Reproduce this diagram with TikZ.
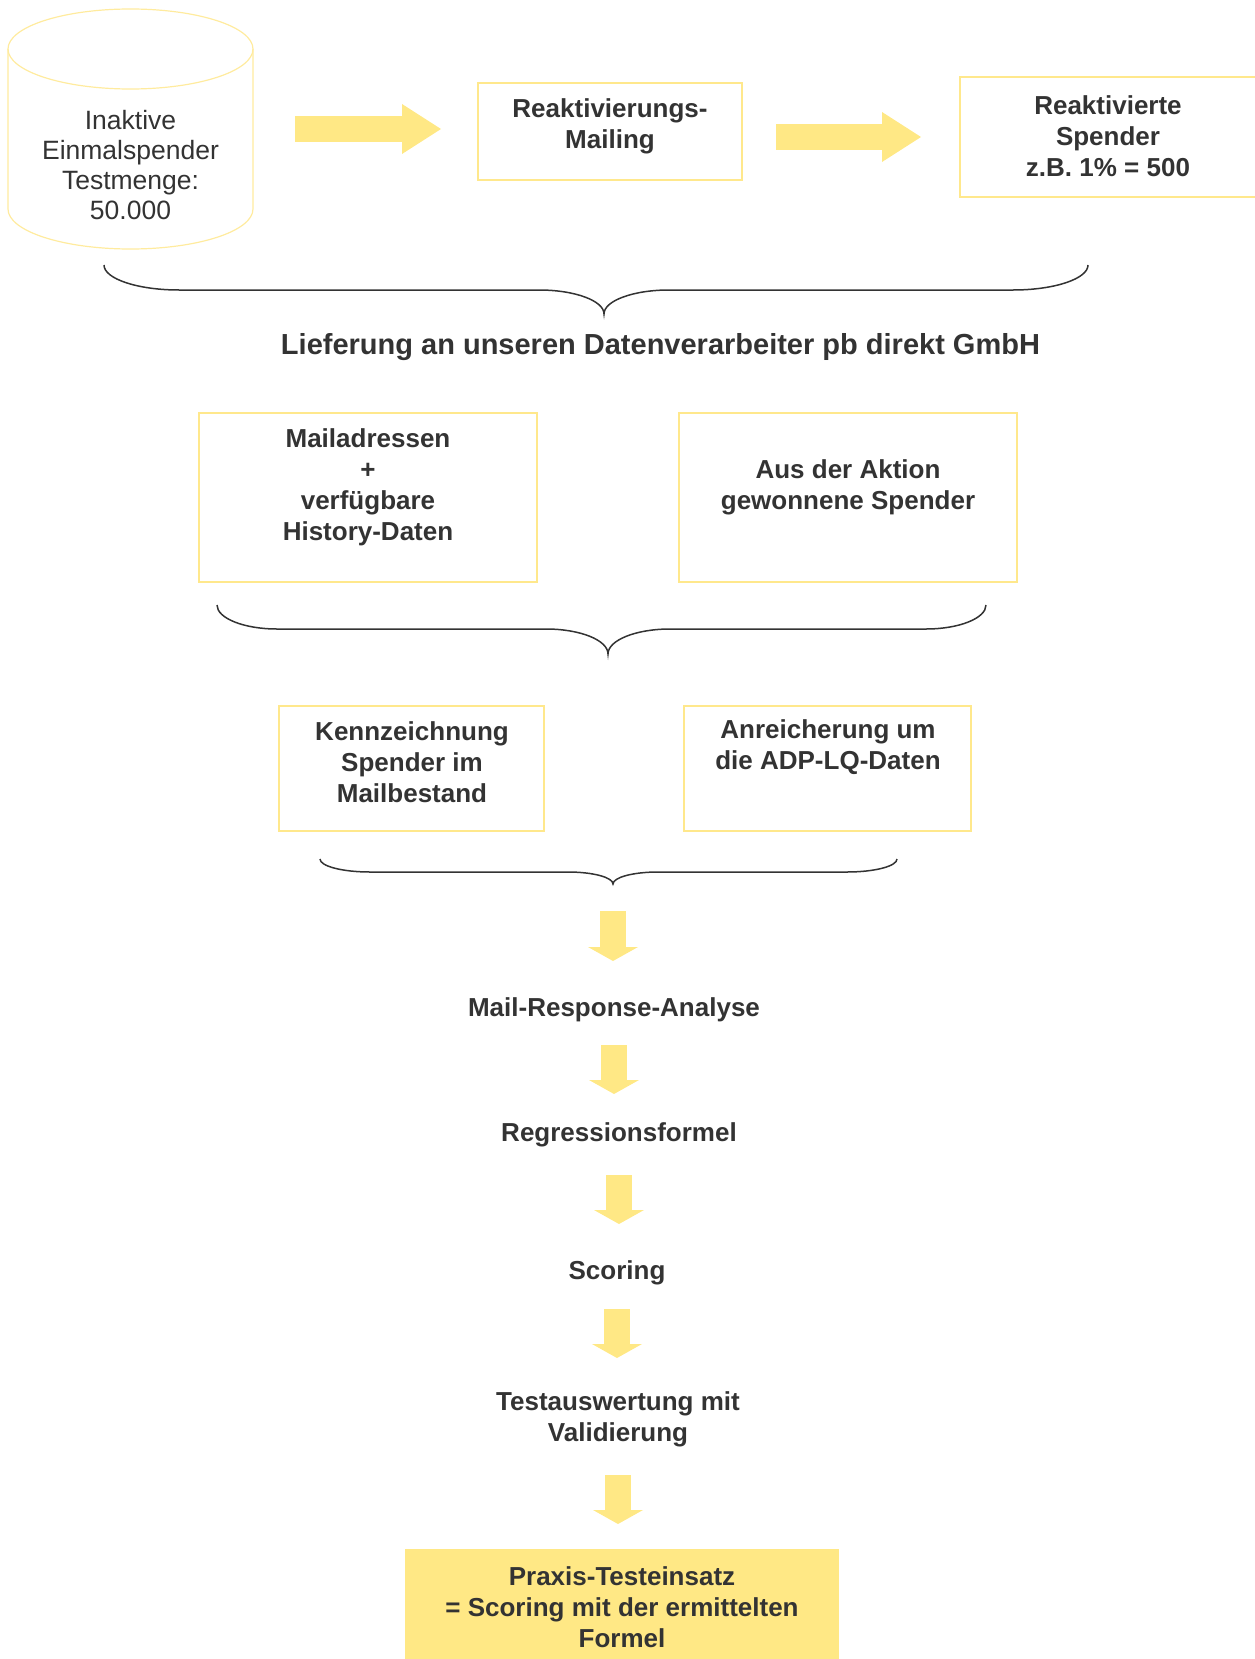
\documentclass[tikz,border=0pt]{standalone}
\usepackage{fontspec}
\setmainfont{Liberation Sans}
\usepackage{tikz}
\usetikzlibrary{arrows.meta}
\tikzset{>=latex}
\definecolor{fillyellow}{HTML}{FFE885}
\definecolor{lineyellow}{HTML}{FFE88C}
\definecolor{cylyellow}{HTML}{FFEB9E}
\definecolor{textgray}{HTML}{333333}
\tikzset{
  yframe/.style={draw=lineyellow, line width=1pt, inner sep=0pt},
  boxtext/.style={align=center, text=textgray, inner sep=0pt,
    font=\fontsize{13}{15.5}\selectfont\bfseries},
  plaintext/.style={align=center, text=textgray, inner sep=0pt,
    font=\fontsize{13.25}{15}\selectfont},
  titletext/.style={text=textgray, inner sep=0pt,
    font=\fontsize{14.5}{17}\selectfont\bfseries},
  cylline/.style={draw=cylyellow, line width=0.6pt},
  curly/.style={draw=textgray, line width=0.75pt},
  blockright/.style={draw=fillyellow, line width=13pt,
    -{Triangle[length=19.5pt,width=25pt,line width=0pt]}},
  blockdown/.style={draw=fillyellow, line width=13pt,
    -{Triangle[length=7pt,width=25pt,line width=0pt]}}
}
\begin{document}
\begin{tikzpicture}[x=0.5pt,y=0.5pt]
    \useasboundingbox (0,0) rectangle (1254,-1659);
    % Datenbank
    \draw[cylline] (130.5,-49) ellipse [x radius=122.5, y radius=40];
    \draw[cylline] (8,-49) -- (8,-209) arc[start angle=180, end angle=360, x radius=122.5, y radius=40] -- (253,-49);
    \node[plaintext] (einmal) at (130.5,-165) {Inaktive\\Einmalspender\\Testmenge:\\50.000};
    \coordinate (cylE) at (253,-129);
    % Kaesten
    \node[yframe, minimum width=132pt, minimum height=48.5pt] (mailing) at (610,-131.5) {};
    \node[yframe, minimum width=149pt, minimum height=60pt] (reakt) at (1109,-137) {};
    \node[yframe, minimum width=169pt, minimum height=84.5pt] (adressen) at (368,-497.5) {};
    \node[yframe, minimum width=169pt, minimum height=84.5pt] (aktion) at (848,-497.5) {};
    \node[yframe, minimum width=132.5pt, minimum height=62.5pt] (kennz) at (411.5,-768.5) {};
    \node[yframe, minimum width=143.5pt, minimum height=62.5pt] (anreich) at (827.5,-768.5) {};
    \node[yframe, draw=none, fill=fillyellow, minimum width=217pt, minimum height=61.5pt] (praxis) at (622,-1610.5) {};
    % Texte
    \node[boxtext] (mailtext) at (610,-126) {Reaktivierungs-\\Mailing};
    \node[boxtext] (reakttext) at (1108,-136.5) {Reaktivierte\\Spender\\z.B. 1\% = 500};
    \node[titletext] (liefer) at (660.5,-347) {Lieferung an unseren Datenverarbeiter pb direkt GmbH};
    \node[boxtext] (adressentext) at (368,-487.5) {Mailadressen\\+\\verfügbare\\History-Daten};
    \node[boxtext] (aktiontext) at (848,-487.5) {Aus der Aktion\\gewonnene Spender};
    \node[boxtext] (kennztext) at (412,-762.5) {Kennzeichnung\\Spender im\\Mailbestand};
    \node[boxtext] (anreichtext) at (828,-747.5) {Anreicherung um\\die ADP-LQ-Daten};
    \node[boxtext] (mra) at (614,-1010) {Mail-Response-Analyse};
    \node[boxtext] (reg) at (619,-1135) {Regressionsformel};
    \node[boxtext] (sco) at (617,-1273) {Scoring};
    \node[boxtext] (test) at (618,-1419) {Testauswertung mit\\Validierung};
    \node[boxtext] (praxistext) at (622,-1607.5) {Praxis-Testeinsatz\\= Scoring mit der ermittelten\\Formel};
    % Klammern
    \foreach \xl/\xm/\xr/\yt/\yl/\yb/\we/\wm in {104/604/1088/265/290/314/75/65, 217/608/986/605/629/654/60/62, 320/613/897/859/872/884/50/45} {
      \draw[curly] (\xl,-\yt) .. controls (\xl,{-\yt-0.552*(\yl-\yt)}) and ({\xl+0.448*\we},-\yl) .. ({\xl+\we},-\yl)
        -- ({\xm-\wm},-\yl) .. controls ({\xm-0.448*\wm},-\yl) and (\xm,{-\yb+0.552*(\yb-\yl)}) .. (\xm,-\yb)
        .. controls (\xm,{-\yb+0.552*(\yb-\yl)}) and ({\xm+0.448*\wm},-\yl) .. ({\xm+\wm},-\yl)
        -- ({\xr-\we},-\yl) .. controls ({\xr-0.448*\we},-\yl) and (\xr,{-\yt-0.552*(\yl-\yt)}) .. (\xr,-\yt);
    }
    \coordinate (tipc) at (613,-884);
    % Pfeile
    \draw[blockright, shorten <=21pt, shorten >=18pt] (cylE) -- (cylE -| mailing.west);
    \draw[blockright, shorten <=16.5pt, shorten >=19pt] (mailing.east |- reakt.west) -- (reakt.west);
    \foreach \a/\b/\s/\e in {tipc/mra/13.5pt/24.5pt, mra/reg/17.5pt/20.5pt, reg/sco/20pt/24.5pt, sco/test/18pt/30.5pt, test/praxis.north/28pt/12pt}
      \draw[blockdown, shorten <=\s, shorten >=\e] (\a.center) -- (\a.center |- \b);
\end{tikzpicture}
\end{document}
